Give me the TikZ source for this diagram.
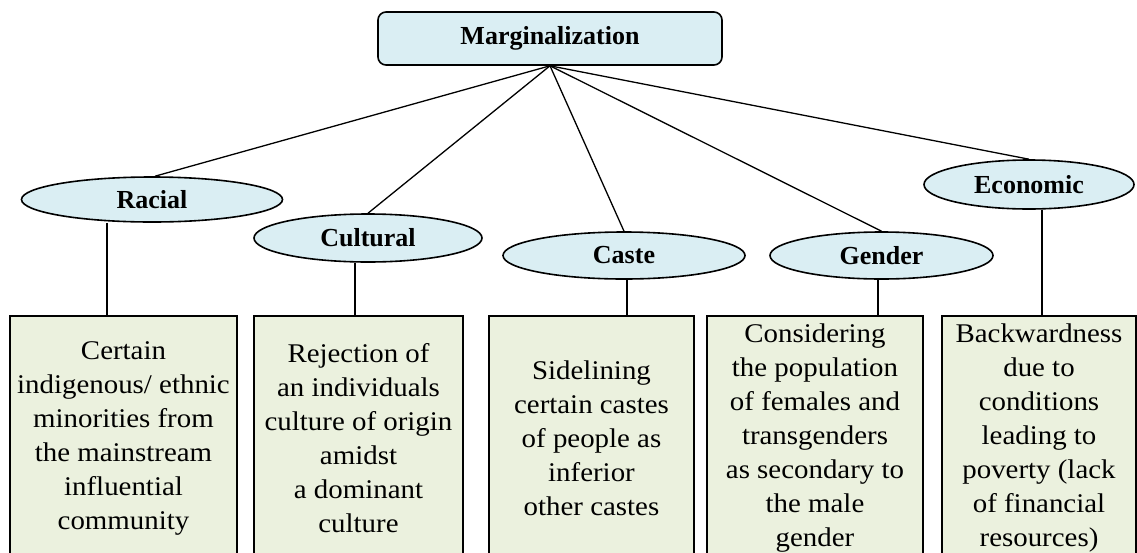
\documentclass[tikz,border=0pt]{standalone}
\usepackage{fontspec}
\setmainfont{Liberation Serif}
\newfontfamily\descfont{Liberation Serif}[FakeStretch=1.07]
\usetikzlibrary{shapes.geometric}
\definecolor{headblue}{HTML}{DAEEF3}
\definecolor{notegreen}{HTML}{EBF1DE}

\begin{document}
\begin{tikzpicture}[
  x=1pt,y=-1pt,
  head/.style={draw,line width=1.6pt,rounded corners=8pt,fill=headblue,minimum width=344pt,minimum height=53pt,font=\fontsize{26}{30}\selectfont\bfseries},
  kind/.style={ellipse,draw,line width=1.6pt,fill=headblue,inner sep=0pt,font=\fontsize{26}{30}\selectfont\bfseries},
  note/.style={draw,line width=1.6pt,fill=notegreen,align=center,inner sep=0pt,minimum height=244pt,font=\descfont\fontsize{27}{34}\selectfont},
  link/.style={line width=1.3pt}
]
\clip (0,0) rectangle (1137,552);
\fill[white] (0,0) rectangle (1137,552);
% root
\node[head] (marg) at (550,38.5) {Marginalization};
% kinds
\node[kind,minimum width=261pt,minimum height=45pt] (racial) at (152,199.5) {Racial};
\node[kind,minimum width=228pt,minimum height=48pt] (cultural) at (368,238) {Cultural};
\node[kind,minimum width=242pt,minimum height=47pt] (caste) at (624,255.5) {Caste};
\node[kind,minimum width=223pt,minimum height=47pt] (gender) at (881.5,255.5) {Gender};
\node[kind,minimum width=210pt,minimum height=49pt] (economic) at (1029,184.5) {Economic};
% descriptions
\node[note,minimum width=227pt] (racialtxt) at (123.5,438) {Certain\\indigenous/ ethnic\\minorities from\\the mainstream\\influential\\community};
\node[note,minimum width=209pt] (culturaltxt) at (358.5,438) {Rejection of\\an individuals\\culture of origin\\amidst\\a dominant\\culture};
\node[note,minimum width=205pt] (castetxt) at (591.5,438) {Sidelining\\certain castes\\of people as\\inferior\\other castes};
\node[note,minimum width=216pt] (gendertxt) at (815,438) {Considering\\the population\\of females and\\transgenders\\as secondary to\\the male\\gender};
\node[note,minimum width=194pt] (economictxt) at (1039,438) {Backwardness\\due to\\conditions\\leading to\\poverty (lack\\of financial\\resources)};
% links
\draw[link] (marg.south) -- ([xshift=3pt]racial.north);
\draw[link] (marg.south) -- (cultural.north);
\draw[link] (marg.south) -- (caste.north);
\draw[link] (marg.south) -- (gender.north);
\draw[link] (marg.south) -- (economic.north);
\draw[link] ([xshift=-45pt]racial.south) -- ([xshift=-45pt]racial.south |- racialtxt.north);
\draw[link] ([xshift=-13pt]cultural.south) -- ([xshift=-13pt]cultural.south |- culturaltxt.north);
\draw[link] ([xshift=3pt]caste.south) -- ([xshift=3pt]caste.south |- castetxt.north);
\draw[link] ([xshift=-3.5pt]gender.south) -- ([xshift=-3.5pt]gender.south |- gendertxt.north);
\draw[link] ([xshift=13pt]economic.south) -- ([xshift=13pt]economic.south |- economictxt.north);
\end{tikzpicture}
\end{document}
